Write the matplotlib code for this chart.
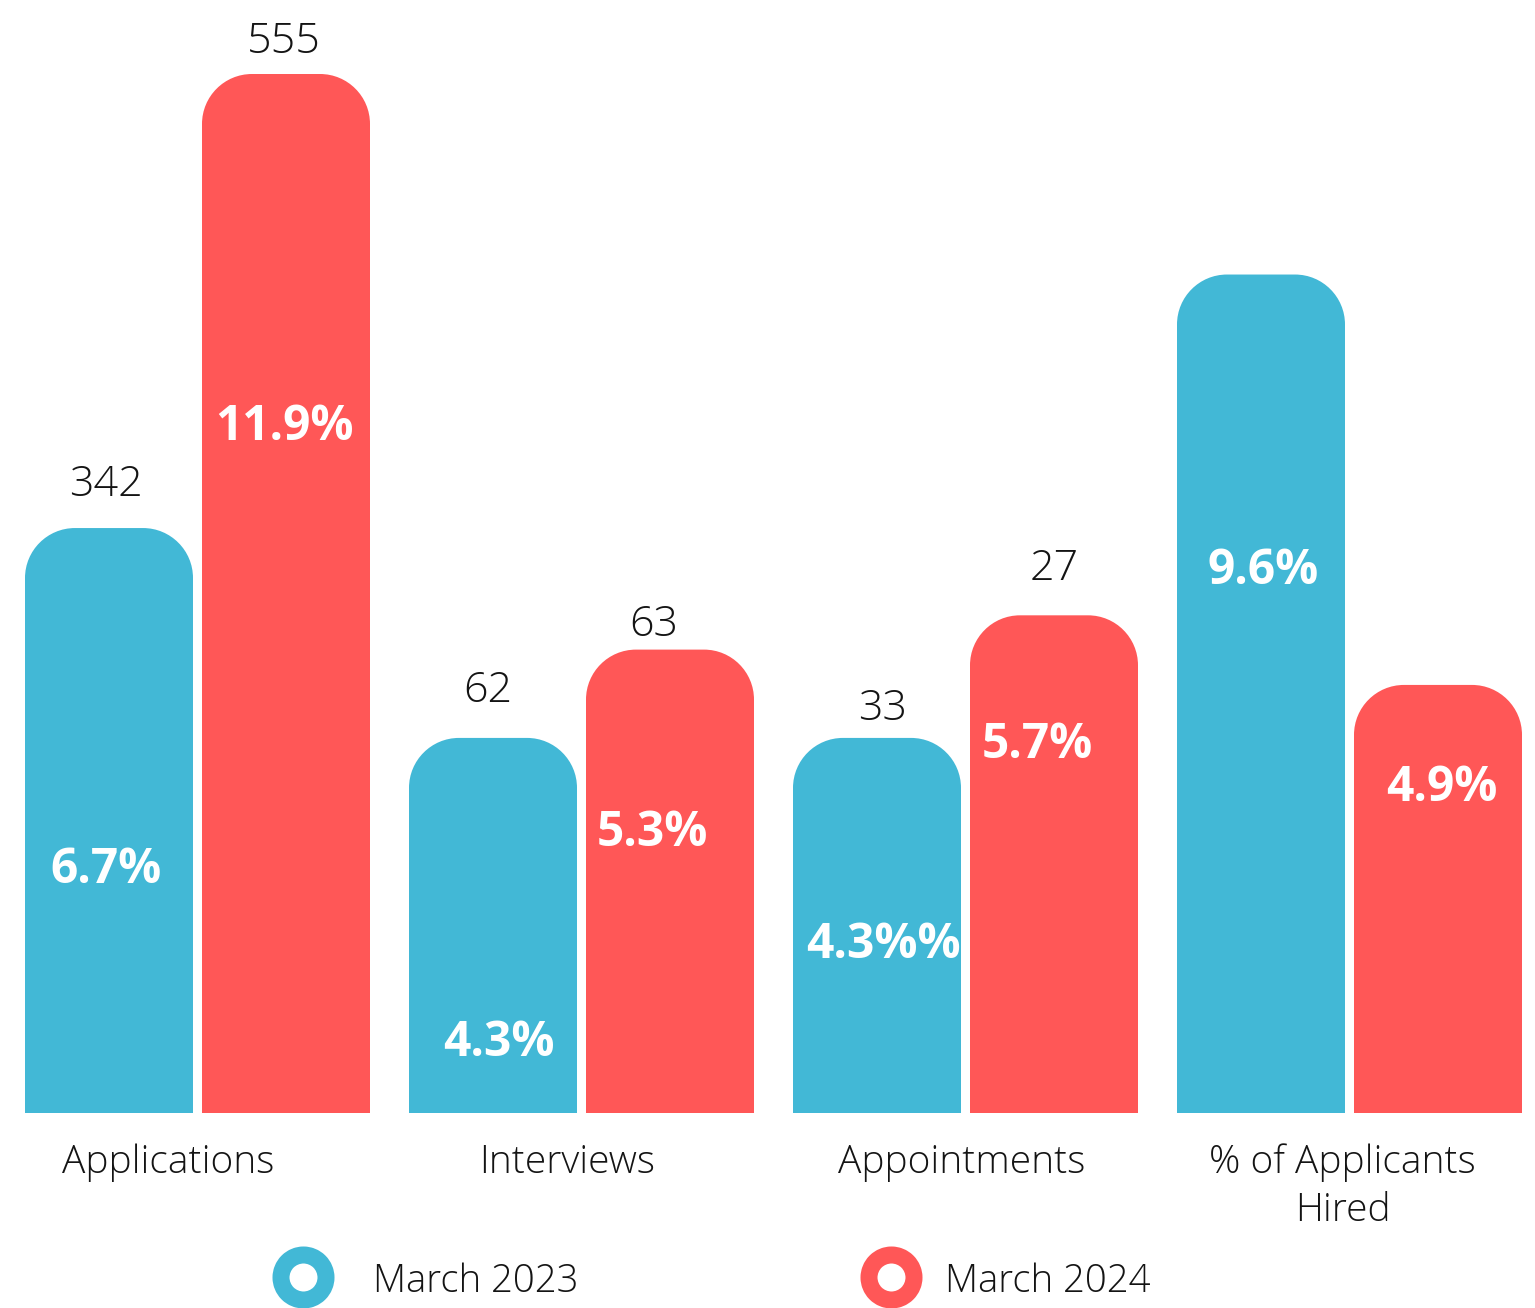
import matplotlib
matplotlib.use("Agg")
import matplotlib.pyplot as plt
import numpy as np
from matplotlib.path import Path
from matplotlib.patches import PathPatch
from matplotlib.lines import Line2D

# ---------------- data ----------------
categories = ["Applications", "Interviews", "Appointments", "% of Applicants\nHired"]
series_names = ["March 2023", "March 2024"]
# relative bar heights (index, tallest bar = 100)
height_2023 = [56.3, 36.1, 36.1, 80.7]
height_2024 = [100.0, 44.6, 47.9, 41.2]
# counts printed above bars (None = no label)
count_2023 = ["342", "62", "33", None]
count_2024 = ["555", "63", "27", None]
# percentages printed inside bars
pct_2023 = ["6.7%", "4.3%", "4.3%%", "9.6%"]
pct_2024 = ["11.9%", "5.3%", "5.7%", "4.9%"]

# ---------------- layout (label placement, in axis units) ----------------
count_y_2023 = [60.9, 41.1, 39.4, None]
count_y_2024 = [103.6, 47.5, 52.9, None]
count_dx_2023 = [-3, -5, 6, 0]       # px
count_dx_2024 = [-2, -16, 0, 0]
pct_y_2023 = [23.9, 7.3, 16.7, 52.7]
pct_y_2024 = [66.6, 27.5, 35.9, 31.8]
pct_dx_2023 = [-3, 6, 6, 2]
pct_dx_2024 = [-2, -18, -17, 4]
cat_dx = [-29, -14, -4, -7]

BLUE = "#42B8D6"
RED = "#FF5757"
TXT = "#141414"

W, H = 1535, 1308
DPI = 100
fig = plt.figure(figsize=(W / DPI, H / DPI), dpi=DPI)
base_px = 1113
ax = fig.add_axes([0, (H - base_px) / H, 1, base_px / H])

pitch = 384.0
x = np.arange(len(categories))
bw = 168 / pitch
off = (177 / 2) / pitch
x0 = -197.5 / pitch
ax.set_xlim(x0, x0 + W / pitch)
ymax = base_px / 1039 * 100
ax.set_ylim(0, ymax)
ax.axis("off")

px_per_y = base_px / ymax
rx = 50 / pitch
ry = 50 / px_per_y


def rounded(rect, color):
    xa = rect.get_x()
    w = rect.get_width()
    h = rect.get_height()
    xb = xa + w
    k = 0.5523
    verts = [
        (xa, 0), (xa, h - ry),
        (xa, h - ry + k * ry), (xa + rx - k * rx, h), (xa + rx, h),
        (xb - rx, h),
        (xb - rx + k * rx, h), (xb, h - ry + k * ry), (xb, h - ry),
        (xb, 0), (xa, 0),
    ]
    codes = [Path.MOVETO, Path.LINETO,
             Path.CURVE4, Path.CURVE4, Path.CURVE4,
             Path.LINETO,
             Path.CURVE4, Path.CURVE4, Path.CURVE4,
             Path.LINETO, Path.CLOSEPOLY]
    ax.add_patch(PathPatch(Path(verts, codes), facecolor=color, edgecolor="none"))
    rect.set_visible(False)


b1 = ax.bar(x - off, height_2023, bw, color=BLUE)
b2 = ax.bar(x + off, height_2024, bw, color=RED)
for r in b1:
    rounded(r, BLUE)
for r in b2:
    rounded(r, RED)

FAM = ["Open Sans", "DejaVu Sans"]

for i in range(len(categories)):
    for bars, cnt, cy, cdx, pct, py, pdx in (
        (b1, count_2023, count_y_2023, count_dx_2023, pct_2023, pct_y_2023, pct_dx_2023),
        (b2, count_2024, count_y_2024, count_dx_2024, pct_2024, pct_y_2024, pct_dx_2024),
    ):
        r = bars[i]
        cx = r.get_x() + r.get_width() / 2
        if cnt[i] is not None:
            ax.text(cx + cdx[i] / pitch, cy[i], cnt[i], ha="center", va="center_baseline",
                    fontsize=31, color=TXT, family=FAM, weight="light")
        ax.text(cx + pdx[i] / pitch, py[i], pct[i], ha="center", va="center_baseline",
                fontsize=34.5, color="white", family=FAM, weight="bold")

for i, c in enumerate(categories):
    nlines = c.count("\n") + 1
    base_y = 1173 + 48 * (nlines - 1)
    ax.text(x[i] + cat_dx[i] / pitch, -(base_y - base_px) / px_per_y, c, ha="center",
            va="baseline", fontsize=28, color=TXT, family=FAM, weight="light",
            linespacing=1.32, multialignment="center")

# legend (overlay in pixel coordinates)
lax = fig.add_axes([0, 0, 1, 1])
lax.set_xlim(0, W)
lax.set_ylim(H, 0)
lax.axis("off")
for mx, tx, col, name in ((303, 373, BLUE, series_names[0]), (891, 945, RED, series_names[1])):
    lax.add_line(Line2D([mx], [1277], marker="o", markersize=45 * 72 / DPI,
                        markerfacecolor="white", markeredgecolor=col,
                        markeredgewidth=17 * 72 / DPI, linestyle="none"))
    lax.text(tx, 1292, name, ha="left", va="baseline", fontsize=27.5, color=TXT,
             family=FAM, weight="light")

fig.savefig("out.png", dpi=DPI, facecolor="white")
